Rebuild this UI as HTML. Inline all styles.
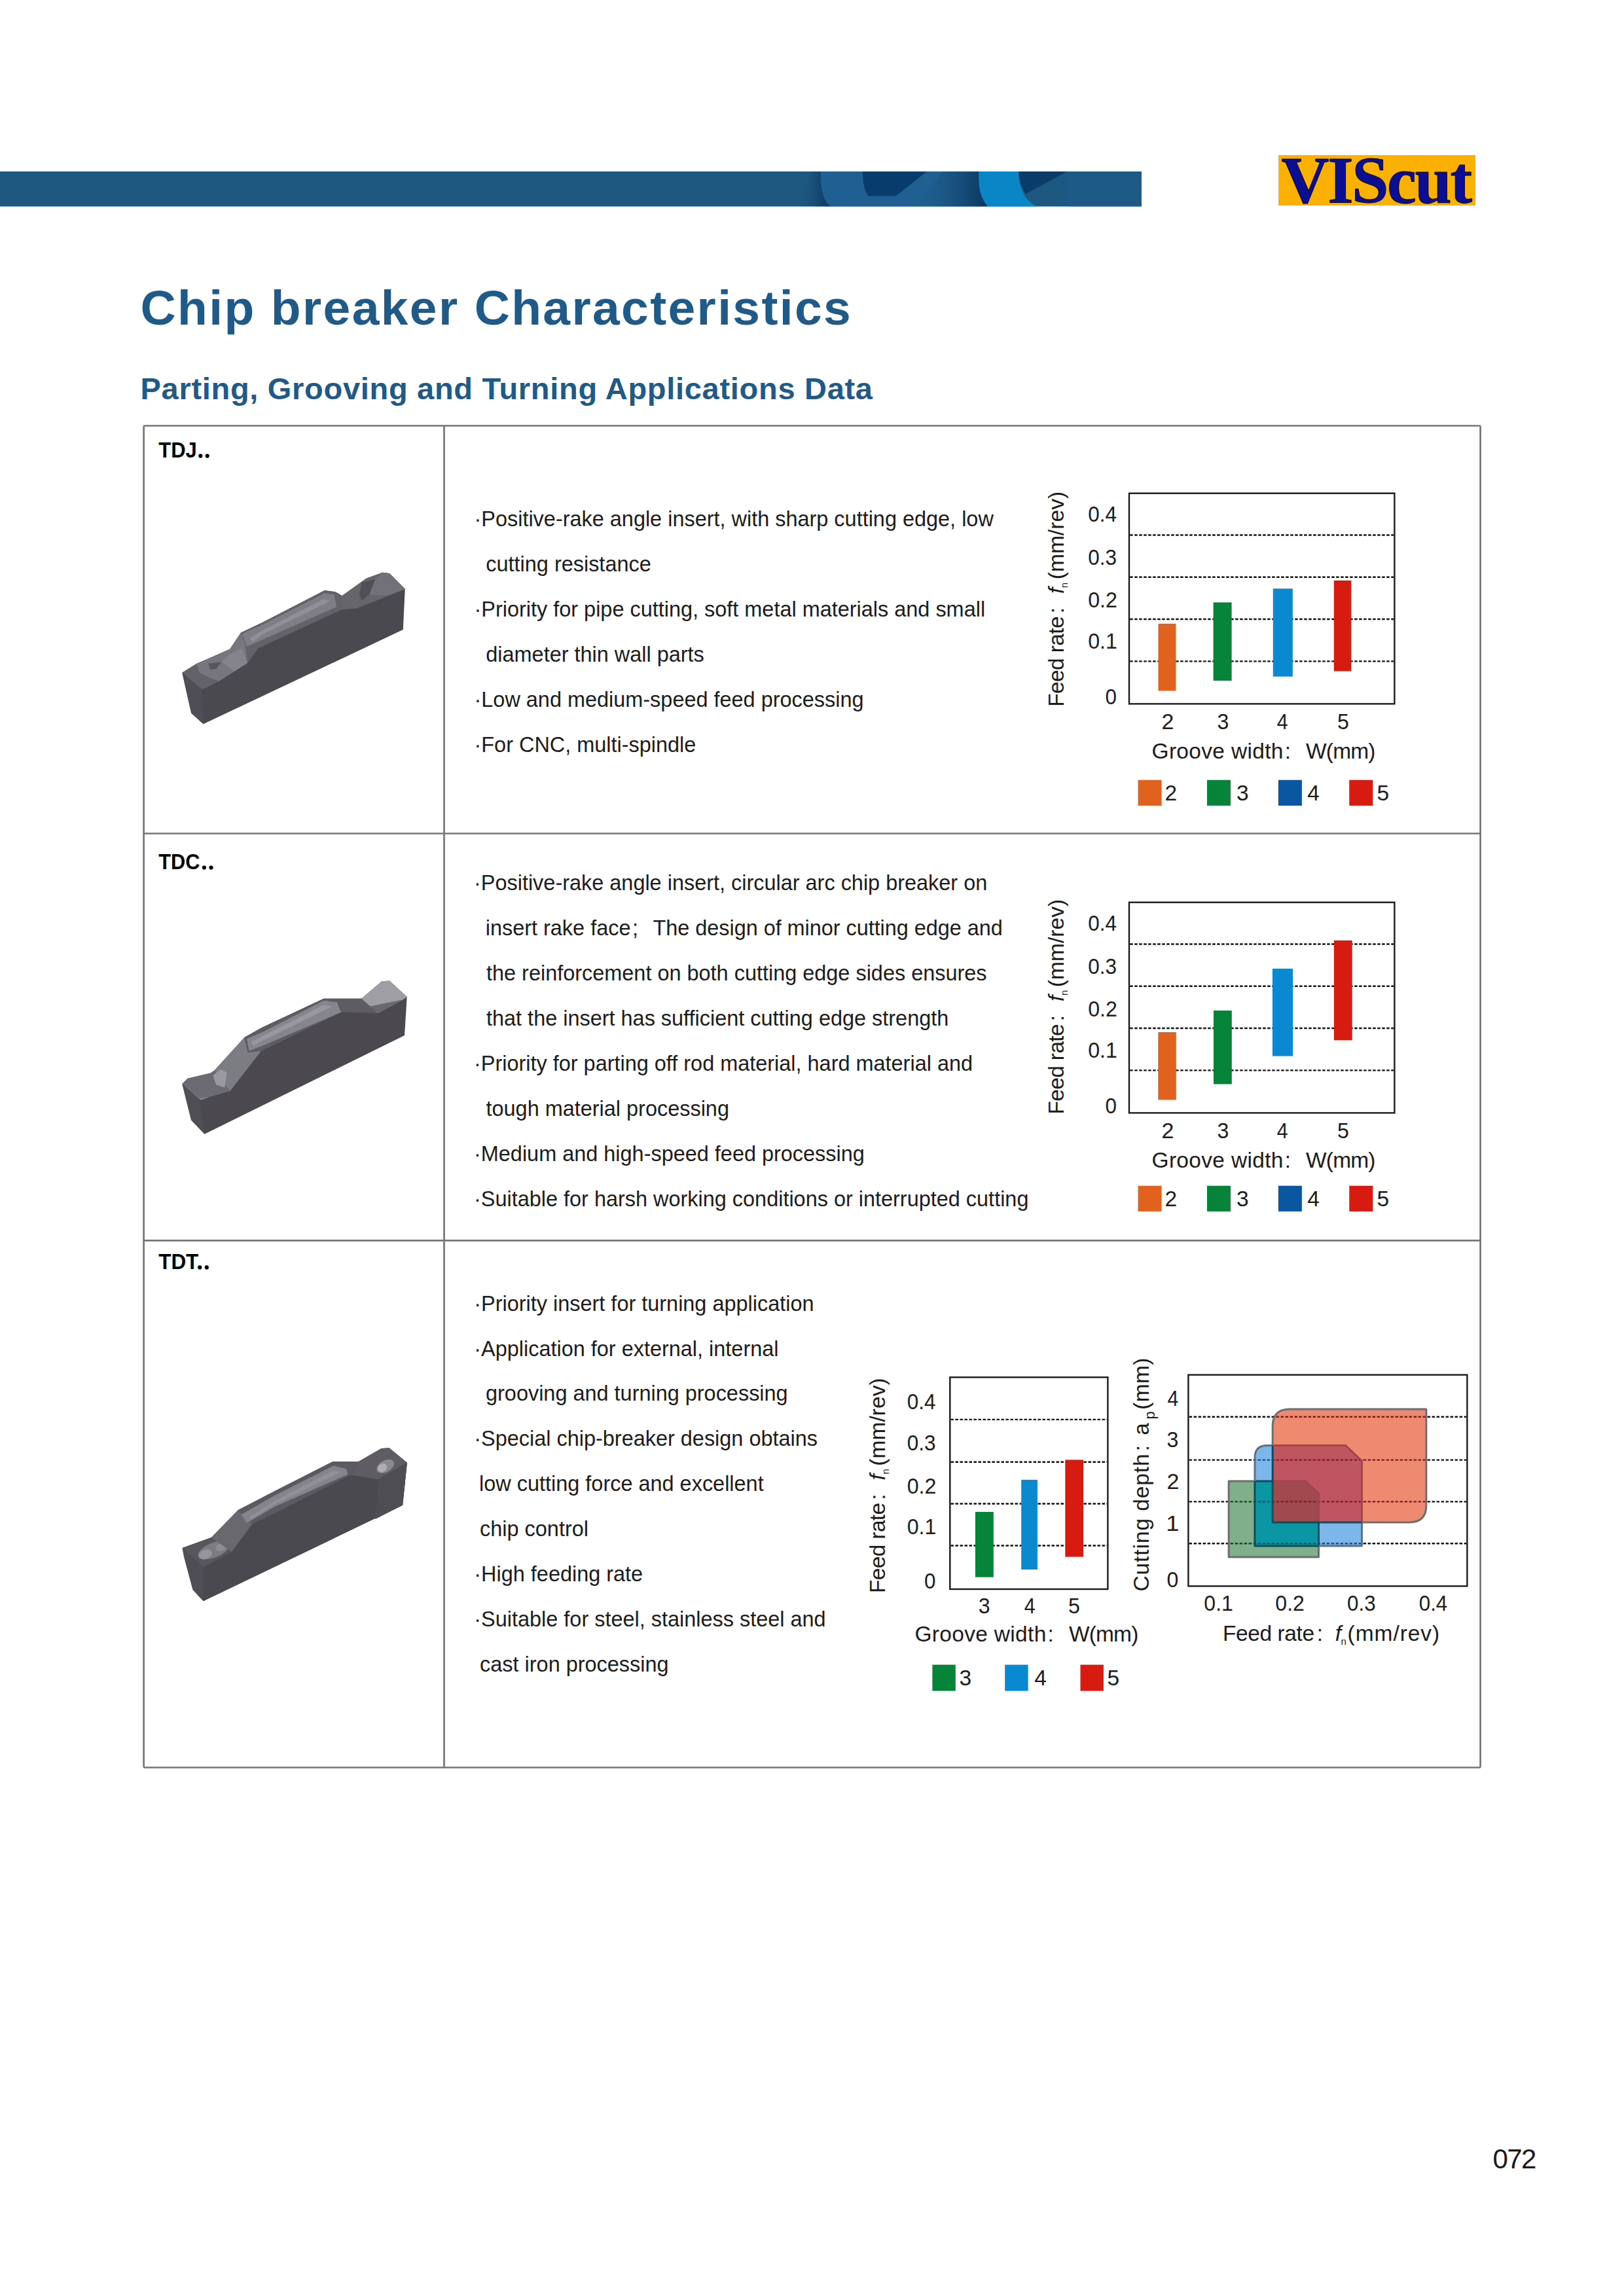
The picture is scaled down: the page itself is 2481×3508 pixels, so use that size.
<!DOCTYPE html>
<html><head><meta charset="utf-8"><title>Chip breaker Characteristics</title>
<style>html,body{margin:0;padding:0;background:#fff;} body{width:2481px;height:3508px;overflow:hidden;font-family:"Liberation Sans",sans-serif;} svg{display:block;}</style>
</head><body>
<svg width="2481" height="3508" viewBox="0 0 2481 3508">
<rect width="2481" height="3508" fill="#fff"/>
<rect x="0" y="262" width="1744" height="53.5" fill="#1d5880"/>
<defs>
<linearGradient id="gd1" x1="0" y1="0" x2="1" y2="0">
 <stop offset="0" stop-color="#1d5880" stop-opacity="0"/><stop offset="1" stop-color="#0a355f"/></linearGradient>
<linearGradient id="gd2" x1="0" y1="0" x2="1" y2="0">
 <stop offset="0" stop-color="#1d5880" stop-opacity="0"/><stop offset="1" stop-color="#08345e"/></linearGradient>
<linearGradient id="gd3" x1="0" y1="0" x2="1" y2="0">
 <stop offset="0" stop-color="#0a3a66"/><stop offset="1" stop-color="#1d5880" stop-opacity="0"/></linearGradient>
<clipPath id="barclip"><rect x="0" y="262" width="1744" height="53.5"/></clipPath>
</defs>
<g clip-path="url(#barclip)">
<polygon points="1215,315.5 1240,262 1256,262 1268,315.5" fill="url(#gd1)"/>
<path d="M1254,262 Q1252,300 1268,315.5 L1500,315.5 L1500,262 Z" fill="#1f5f91"/>
<polygon points="1400,315.5 1440,262 1497,262 1510,315.5" fill="url(#gd2)"/>
<path d="M1318,262 Q1318,290 1327,299.5 L1368.5,299.5 L1416,262 Z" fill="#073c6c"/>
<path d="M1495.4,262 Q1493,298 1509,315.5 L1583,315.5 Q1566,305 1562,292 Q1556,278 1556,262 Z" fill="#0a86c6"/>
<path d="M1556,262 L1630,262 L1566.5,296.5 Q1558,282 1556,262 Z" fill="#0a3b69"/>
<rect x="1630" y="262" width="114" height="53.5" fill="#1e5a86"/>
</g>
<rect x="1953" y="237" width="301" height="77" fill="#fab104"/>
<rect x="219.6" y="650.5" width="2042" height="2050" fill="none" stroke="#767676" stroke-width="2.7" rx="2"/>
<line x1="678.5" y1="650.5" x2="678.5" y2="2700.5" stroke="#767676" stroke-width="2.7"/>
<line x1="219.6" y1="1273.5" x2="2261.6" y2="1273.5" stroke="#767676" stroke-width="2.7"/>
<line x1="219.6" y1="1895.4" x2="2261.6" y2="1895.4" stroke="#767676" stroke-width="2.7"/>
<circle cx="306.3" cy="696.6" r="3.1" fill="#000"/><circle cx="316.7" cy="696.6" r="3.1" fill="#000"/>
<circle cx="311.9" cy="1325.6" r="3.1" fill="#000"/><circle cx="322.5" cy="1325.6" r="3.1" fill="#000"/>
<circle cx="305.2" cy="1936.4" r="3.1" fill="#000"/><circle cx="315.8" cy="1936.4" r="3.1" fill="#000"/>
<line x1="1726.2" y1="817.5" x2="2129.2000000000003" y2="817.5" stroke="#111" stroke-width="2.4" stroke-dasharray="4.5 2.5"/>
<line x1="1726.2" y1="881.8" x2="2129.2000000000003" y2="881.8" stroke="#111" stroke-width="2.4" stroke-dasharray="4.5 2.5"/>
<line x1="1726.2" y1="946" x2="2129.2000000000003" y2="946" stroke="#111" stroke-width="2.4" stroke-dasharray="4.5 2.5"/>
<line x1="1726.2" y1="1010.4" x2="2129.2000000000003" y2="1010.4" stroke="#111" stroke-width="2.4" stroke-dasharray="4.5 2.5"/>
<rect x="1769.5" y="952.9" width="27.0" height="102.50000000000011" fill="#e1621f"/>
<rect x="1853.6" y="920.4" width="28.0" height="119.60000000000002" fill="#078439"/>
<rect x="1944.8" y="899.3" width="30.0" height="134.4000000000001" fill="#0a88d0"/>
<rect x="2037.8" y="886.9" width="26.600000000000136" height="138.5000000000001" fill="#d81b10"/>
<rect x="1725" y="753.7" width="405.4000000000001" height="321.70000000000005" fill="none" stroke="#1a1a1a" stroke-width="2.4"/>
<rect x="1738.6" y="1191.7" width="36" height="39.2" fill="#e1621f"/>
<rect x="1844" y="1191.7" width="36" height="39.2" fill="#078439"/>
<rect x="1952.9" y="1191.7" width="36" height="39.2" fill="#0b56a0"/>
<rect x="2061.3" y="1191.7" width="36" height="39.2" fill="#d81b10"/>
<line x1="1726.2" y1="1442.5" x2="2129.2000000000003" y2="1442.5" stroke="#111" stroke-width="2.4" stroke-dasharray="4.5 2.5"/>
<line x1="1726.2" y1="1506.8" x2="2129.2000000000003" y2="1506.8" stroke="#111" stroke-width="2.4" stroke-dasharray="4.5 2.5"/>
<line x1="1726.2" y1="1571.0" x2="2129.2000000000003" y2="1571.0" stroke="#111" stroke-width="2.4" stroke-dasharray="4.5 2.5"/>
<line x1="1726.2" y1="1635.4" x2="2129.2000000000003" y2="1635.4" stroke="#111" stroke-width="2.4" stroke-dasharray="4.5 2.5"/>
<rect x="1769.3" y="1577.0" width="27.5" height="103.40000000000009" fill="#e1621f"/>
<rect x="1854" y="1544.0" width="27.799999999999955" height="112.40000000000009" fill="#078439"/>
<rect x="1944" y="1480.0" width="31" height="133.5999999999999" fill="#0a88d0"/>
<rect x="2037.9" y="1436.8" width="27.799999999999727" height="152.5" fill="#d81b10"/>
<rect x="1725" y="1378.7" width="405.4000000000001" height="321.70000000000005" fill="none" stroke="#1a1a1a" stroke-width="2.4"/>
<rect x="1738.6" y="1811.7" width="36" height="39.2" fill="#e1621f"/>
<rect x="1844" y="1811.7" width="36" height="39.2" fill="#078439"/>
<rect x="1952.9" y="1811.7" width="36" height="39.2" fill="#0b56a0"/>
<rect x="2061.3" y="1811.7" width="36" height="39.2" fill="#d81b10"/>
<line x1="1452.5" y1="2168.9" x2="1691.2" y2="2168.9" stroke="#111" stroke-width="2.4" stroke-dasharray="4.5 2.5"/>
<line x1="1452.5" y1="2233.7" x2="1691.2" y2="2233.7" stroke="#111" stroke-width="2.4" stroke-dasharray="4.5 2.5"/>
<line x1="1452.5" y1="2297.5" x2="1691.2" y2="2297.5" stroke="#111" stroke-width="2.4" stroke-dasharray="4.5 2.5"/>
<line x1="1452.5" y1="2361.5" x2="1691.2" y2="2361.5" stroke="#111" stroke-width="2.4" stroke-dasharray="4.5 2.5"/>
<rect x="1490" y="2310" width="27.799999999999955" height="99.69999999999982" fill="#078439"/>
<rect x="1560.2" y="2260.9" width="24.700000000000045" height="137.0999999999999" fill="#0a88d0"/>
<rect x="1627.3" y="2230.4" width="27.700000000000045" height="148.19999999999982" fill="#d81b10"/>
<rect x="1451.3" y="2104.3" width="241.10000000000014" height="323.6999999999998" fill="none" stroke="#1a1a1a" stroke-width="2.4"/>
<rect x="1424.4" y="2543.5" width="35.4" height="40" fill="#078439"/>
<rect x="1535.2" y="2543.5" width="35.4" height="40" fill="#0a88d0"/>
<rect x="1650.5" y="2543.5" width="35.4" height="40" fill="#d81b10"/>
<line x1="1816.6000000000001" y1="2164.7" x2="2240.2000000000003" y2="2164.7" stroke="#111" stroke-width="2.4" stroke-dasharray="4.5 2.5"/>
<line x1="1816.6000000000001" y1="2230.6" x2="2240.2000000000003" y2="2230.6" stroke="#111" stroke-width="2.4" stroke-dasharray="4.5 2.5"/>
<line x1="1816.6000000000001" y1="2294.4" x2="2240.2000000000003" y2="2294.4" stroke="#111" stroke-width="2.4" stroke-dasharray="4.5 2.5"/>
<line x1="1816.6000000000001" y1="2358.3" x2="2240.2000000000003" y2="2358.3" stroke="#111" stroke-width="2.4" stroke-dasharray="4.5 2.5"/>
<defs><clipPath id="cg"><path d="M1877.2,2262.9 L1994,2262.9 L2014.5,2281.5 L2014.5,2378.9 L1877.2,2378.9 Z"/></clipPath><clipPath id="cb"><path d="M1917,2362.1 L1917,2227 Q1917,2208.5 1936,2208.5 L2055.8,2208.5 L2080.5,2232 L2080.5,2362.1 Z"/></clipPath><clipPath id="cr"><path d="M1944.2,2325.9 L1944.2,2179 Q1944.2,2153 1970,2153 L2178.9,2153 L2178.9,2300 Q2178.9,2325.9 2153,2325.9 Z"/></clipPath></defs>
<path d="M1877.2,2262.9 L1994,2262.9 L2014.5,2281.5 L2014.5,2378.9 L1877.2,2378.9 Z" fill="#7fb08b"/>
<path d="M1917,2362.1 L1917,2227 Q1917,2208.5 1936,2208.5 L2055.8,2208.5 L2080.5,2232 L2080.5,2362.1 Z" fill="#7db6ea"/>
<g clip-path="url(#cg)"><path d="M1917,2362.1 L1917,2227 Q1917,2208.5 1936,2208.5 L2055.8,2208.5 L2080.5,2232 L2080.5,2362.1 Z" fill="#0a97a3"/></g>
<path d="M1944.2,2325.9 L1944.2,2179 Q1944.2,2153 1970,2153 L2178.9,2153 L2178.9,2300 Q2178.9,2325.9 2153,2325.9 Z" fill="#ee8a70"/>
<g clip-path="url(#cb)"><path d="M1944.2,2325.9 L1944.2,2179 Q1944.2,2153 1970,2153 L2178.9,2153 L2178.9,2300 Q2178.9,2325.9 2153,2325.9 Z" fill="#c05562"/></g>
<g clip-path="url(#cg)"><g clip-path="url(#cb)"><path d="M1944.2,2325.9 L1944.2,2179 Q1944.2,2153 1970,2153 L2178.9,2153 L2178.9,2300 Q2178.9,2325.9 2153,2325.9 Z" fill="#a04a50"/></g></g>
<defs>
<mask id="m_nb" maskUnits="userSpaceOnUse" x="1800" y="2090" width="460" height="350"><rect x="1800" y="2090" width="460" height="350" fill="#fff"/><path d="M1917,2362.1 L1917,2227 Q1917,2208.5 1936,2208.5 L2055.8,2208.5 L2080.5,2232 L2080.5,2362.1 Z" fill="#000"/></mask>
<mask id="m_nr" maskUnits="userSpaceOnUse" x="1800" y="2090" width="460" height="350"><rect x="1800" y="2090" width="460" height="350" fill="#fff"/><path d="M1944.2,2325.9 L1944.2,2179 Q1944.2,2153 1970,2153 L2178.9,2153 L2178.9,2300 Q2178.9,2325.9 2153,2325.9 Z" fill="#000"/></mask>
<mask id="m_nbr" maskUnits="userSpaceOnUse" x="1800" y="2090" width="460" height="350"><rect x="1800" y="2090" width="460" height="350" fill="#fff"/><path d="M1917,2362.1 L1917,2227 Q1917,2208.5 1936,2208.5 L2055.8,2208.5 L2080.5,2232 L2080.5,2362.1 Z" fill="#000"/><path d="M1944.2,2325.9 L1944.2,2179 Q1944.2,2153 1970,2153 L2178.9,2153 L2178.9,2300 Q2178.9,2325.9 2153,2325.9 Z" fill="#000"/></mask>
<mask id="m_ngr" maskUnits="userSpaceOnUse" x="1800" y="2090" width="460" height="350"><rect x="1800" y="2090" width="460" height="350" fill="#fff"/><path d="M1877.2,2262.9 L1994,2262.9 L2014.5,2281.5 L2014.5,2378.9 L1877.2,2378.9 Z" fill="#000"/><path d="M1944.2,2325.9 L1944.2,2179 Q1944.2,2153 1970,2153 L2178.9,2153 L2178.9,2300 Q2178.9,2325.9 2153,2325.9 Z" fill="#000"/></mask>
</defs>
<g clip-path="url(#cr)"><line x1="1816.6000000000001" y1="2164.7" x2="2240.2000000000003" y2="2164.7" stroke="#7e1c26" stroke-width="2.4" stroke-dasharray="4.5 2.5"/><line x1="1816.6000000000001" y1="2230.6" x2="2240.2000000000003" y2="2230.6" stroke="#7e1c26" stroke-width="2.4" stroke-dasharray="4.5 2.5"/><line x1="1816.6000000000001" y1="2294.4" x2="2240.2000000000003" y2="2294.4" stroke="#7e1c26" stroke-width="2.4" stroke-dasharray="4.5 2.5"/><line x1="1816.6000000000001" y1="2358.3" x2="2240.2000000000003" y2="2358.3" stroke="#7e1c26" stroke-width="2.4" stroke-dasharray="4.5 2.5"/></g>
<g clip-path="url(#cg)"><g clip-path="url(#cb)"><g mask="url(#m_nr)"><line x1="1816.6000000000001" y1="2164.7" x2="2240.2000000000003" y2="2164.7" stroke="#0a5a62" stroke-width="2.4" stroke-dasharray="4.5 2.5"/><line x1="1816.6000000000001" y1="2230.6" x2="2240.2000000000003" y2="2230.6" stroke="#0a5a62" stroke-width="2.4" stroke-dasharray="4.5 2.5"/><line x1="1816.6000000000001" y1="2294.4" x2="2240.2000000000003" y2="2294.4" stroke="#0a5a62" stroke-width="2.4" stroke-dasharray="4.5 2.5"/><line x1="1816.6000000000001" y1="2358.3" x2="2240.2000000000003" y2="2358.3" stroke="#0a5a62" stroke-width="2.4" stroke-dasharray="4.5 2.5"/></g></g></g>
<g clip-path="url(#cg)"><g mask="url(#m_nbr)"><line x1="1816.6000000000001" y1="2164.7" x2="2240.2000000000003" y2="2164.7" stroke="#114a26" stroke-width="2.4" stroke-dasharray="4.5 2.5"/><line x1="1816.6000000000001" y1="2230.6" x2="2240.2000000000003" y2="2230.6" stroke="#114a26" stroke-width="2.4" stroke-dasharray="4.5 2.5"/><line x1="1816.6000000000001" y1="2294.4" x2="2240.2000000000003" y2="2294.4" stroke="#114a26" stroke-width="2.4" stroke-dasharray="4.5 2.5"/><line x1="1816.6000000000001" y1="2358.3" x2="2240.2000000000003" y2="2358.3" stroke="#114a26" stroke-width="2.4" stroke-dasharray="4.5 2.5"/></g></g>
<g clip-path="url(#cb)"><g mask="url(#m_ngr)"><line x1="1816.6000000000001" y1="2164.7" x2="2240.2000000000003" y2="2164.7" stroke="#1f4f7e" stroke-width="2.4" stroke-dasharray="4.5 2.5"/><line x1="1816.6000000000001" y1="2230.6" x2="2240.2000000000003" y2="2230.6" stroke="#1f4f7e" stroke-width="2.4" stroke-dasharray="4.5 2.5"/><line x1="1816.6000000000001" y1="2294.4" x2="2240.2000000000003" y2="2294.4" stroke="#1f4f7e" stroke-width="2.4" stroke-dasharray="4.5 2.5"/><line x1="1816.6000000000001" y1="2358.3" x2="2240.2000000000003" y2="2358.3" stroke="#1f4f7e" stroke-width="2.4" stroke-dasharray="4.5 2.5"/></g></g>
<g mask="url(#m_nbr)"><path d="M1877.2,2262.9 L1994,2262.9 L2014.5,2281.5 L2014.5,2378.9 L1877.2,2378.9 Z" fill="none" stroke="#6e6e6e" stroke-width="3" stroke-linejoin="round"/></g>
<g clip-path="url(#cb)"><g mask="url(#m_nr)"><path d="M1877.2,2262.9 L1994,2262.9 L2014.5,2281.5 L2014.5,2378.9 L1877.2,2378.9 Z" fill="none" stroke="#0b4f5c" stroke-width="3" stroke-linejoin="round"/></g></g>
<g clip-path="url(#cr)"><path d="M1877.2,2262.9 L1994,2262.9 L2014.5,2281.5 L2014.5,2378.9 L1877.2,2378.9 Z" fill="none" stroke="#a04450" stroke-width="3" stroke-linejoin="round"/></g>
<g mask="url(#m_ngr)"><path d="M1917,2362.1 L1917,2227 Q1917,2208.5 1936,2208.5 L2055.8,2208.5 L2080.5,2232 L2080.5,2362.1 Z" fill="none" stroke="#5f7386" stroke-width="3" stroke-linejoin="round"/></g>
<g clip-path="url(#cg)"><g mask="url(#m_nr)"><path d="M1917,2362.1 L1917,2227 Q1917,2208.5 1936,2208.5 L2055.8,2208.5 L2080.5,2232 L2080.5,2362.1 Z" fill="none" stroke="#0b4f5c" stroke-width="3" stroke-linejoin="round"/></g></g>
<g clip-path="url(#cr)"><path d="M1917,2362.1 L1917,2227 Q1917,2208.5 1936,2208.5 L2055.8,2208.5 L2080.5,2232 L2080.5,2362.1 Z" fill="none" stroke="#a04450" stroke-width="3" stroke-linejoin="round"/></g>
<g mask="url(#m_nb)"><path d="M1944.2,2325.9 L1944.2,2179 Q1944.2,2153 1970,2153 L2178.9,2153 L2178.9,2300 Q2178.9,2325.9 2153,2325.9 Z" fill="none" stroke="#6e6e6e" stroke-width="3" stroke-linejoin="round"/></g>
<g clip-path="url(#cb)"><path d="M1944.2,2325.9 L1944.2,2179 Q1944.2,2153 1970,2153 L2178.9,2153 L2178.9,2300 Q2178.9,2325.9 2153,2325.9 Z" fill="none" stroke="#0b4f5c" stroke-width="3" stroke-linejoin="round"/></g>
<rect x="1815.4" y="2100.6" width="426.0" height="322.8000000000002" fill="none" stroke="#1a1a1a" stroke-width="2.4"/>
<defs><filter id="soft" x="-5%" y="-5%" width="110%" height="110%"><feGaussianBlur stdDeviation="2.6"/></filter></defs>
<g transform="translate(260,850) scale(0.233990)" filter="url(#soft)">
<polygon points="78.3,759.7 173,700.5 263.8,661 390,605.7 461.2,499.2 598.4,434.3 1008.9,222.7 1078.4,232.2 1122.6,257.5 1280.5,143.8 1387.9,105.9 1432.1,112.2 1533.1,213.3 1520.5,478.6 216.4,1095.4 137.5,1024" fill="#4a494f"/>
<polygon points="78.3,759.7 208.5,870 216.4,1095.4 137.5,1024" fill="#4f4e54"/>
<polygon points="78.3,759.7 173,700.5 263.8,661 390,605.7 461.2,499.2 598.4,434.3 1008.9,222.7 1078.4,232.2 1122.6,257.5 1280.5,143.8 1387.9,105.9 1432.1,112.2 1533.1,213.3 1217,339.6 1122.6,346 575.6,600 504.6,696.7 319.2,815 208.5,870" fill="#636268"/>
<polygon points="173,700.5 263.8,661 390,605.7 461.2,499.2 488.9,574 504.6,696.7 319.2,815 250,790 190,760" fill="#77767e"/>
<polygon points="248,700 334.7,690 300,735 263.8,740" fill="#56555c"/>
<polygon points="334.7,690 390,640 470,600 504.6,696.7 420,750" fill="#85848c"/>
<polygon points="470,505 598.4,448 1008.9,240 1070,250 1086.3,330 598.4,546 500,590" fill="#7f7e86"/>
<polygon points="520,535 598.4,485 1000,280 1045,292 598.4,512 540,560" fill="#918f98"/>
<polygon points="1122.6,257.5 1280.5,143.8 1387.9,105.9 1432.1,112.2 1533.1,213.3 1217,339.6 1122.6,346" fill="#66656b"/>
<polygon points="1250,170 1340,150 1300,250 1250,290 1235,250" fill="#505056"/>
<polygon points="1340,150 1387.9,105.9 1432.1,112.2 1533.1,213.3 1420,255 1300,250" fill="#727179"/>
</g>
<g transform="translate(260,1470) scale(0.233990)" filter="url(#soft)">
<polygon points="78.3,795.3 113.8,759.7 263.8,724.2 287.5,708.3 484.8,491.2 598.4,427.9 1002.6,238.5 1248.9,238.5 1381.4,124.8 1432.1,121.7 1545.8,226 1530,478.6 224.4,1122.8 137.5,1032" fill="#4b4a50"/>
<polygon points="78.3,795.3 192.7,897.8 224.4,1122.8 137.5,1032" fill="#504f55"/>
<polygon points="78.3,795.3 113.8,759.7 263.8,724.2 287.5,708.3 390.1,842.5 192.7,897.8" fill="#6c6b72"/>
<polygon points="95,800 192.7,890 260,880 200,900" fill="#8e8d95"/>
<polygon points="287.5,708.3 484.8,491.2 508.6,589.8 595.4,578.2 390.1,842.5" fill="#7c7b83"/>
<polygon points="279.6,739.9 330,700 370,720 355.9,819 300,800" fill="#9a99a1"/>
<polygon points="484.8,491.2 598.4,427.9 1002.6,238.5 1248.9,238.5 1356.3,333.4 1116.3,326.9 598.4,579.6 508.6,589.8" fill="#5d5c62"/>
<polygon points="500,500 598.4,459.7 1002.6,251 1090,262 1103.6,300 1116.3,326.9 598.4,548 515,580" fill="#86858d"/>
<polygon points="530,520 598.4,485 1000,280 1060,288 598.4,515 545,545" fill="#9896a0"/>
<polygon points="1248.9,238.5 1381.4,124.8 1432.1,121.7 1545.8,226 1520.6,244.8 1356.3,333.4" fill="#9f9ea5"/>
<polygon points="1300,290 1520.6,244.8 1356.3,333.4" fill="#6a696f"/>
</g>
<g transform="translate(260,2190) scale(0.233990)" filter="url(#soft)">
<polygon points="79.6,748 269,680 442.8,500.6 683.8,376.4 1060.2,185.3 1228.1,185.3 1378.6,98.4 1430.7,95.5 1448.1,110 1546.5,191 1517.6,469 216.4,1095.5 148,1021.6 90,806" fill="#4a494f"/>
<polygon points="79.6,748 216.4,874.4 216.4,1095.5 148,1021.6 90,806" fill="#4f4e54"/>
<polygon points="216.4,874.4 400.6,774.4 537.6,590 683.8,521 1164.5,278 1355.4,301 1546.5,191 1517.6,469 216.4,1095.5" fill="#4a494f"/>
<polygon points="79.6,748 269,680 400.6,774.4 216.4,874.4" fill="#58575d"/>
<ellipse cx="285" cy="762" rx="110" ry="48" fill="#7c7b82" transform="rotate(-22 285 762)"/>
<ellipse cx="230" cy="790" rx="45" ry="30" fill="#96959c" transform="rotate(-22 230 790)"/>
<ellipse cx="335" cy="740" rx="40" ry="26" fill="#8e8d94" transform="rotate(-22 335 740)"/>
<polygon points="269,680 442.8,500.6 537.6,590 400.6,774.4" fill="#69686e"/>
<polygon points="442.8,500.6 683.8,376.4 1060.2,185.3 1228.1,185.3 1187.6,272 1164.5,278 683.8,521 537.6,590" fill="#5b5a60"/>
<polygon points="463.8,530 683.8,405 1066,212 1150,232 1160,268 683.8,478 500,585" fill="#85848c"/>
<polygon points="520,545 683.8,440 1060,245 1120,250 683.8,462 530,560" fill="#918f98"/>
<polygon points="1228.1,185.3 1378.6,98.4 1430.7,95.5 1448.1,110 1546.5,191 1355.4,301 1187.6,272" fill="#5e5d63"/>
<ellipse cx="1405" cy="215" rx="62" ry="38" fill="#8a8990" transform="rotate(-30 1405 215)"/>
<ellipse cx="1385" cy="225" rx="32" ry="26" fill="#aeadb4" transform="rotate(-30 1385 225)"/>
<polygon points="1355.4,301 1546.5,191 1517.6,469 1340,560" fill="#4e4d53"/>
</g>
<text x="1957.5" y="309.5" font-family="Liberation Serif" font-size="101" font-weight="bold" fill="#0b0d92" text-anchor="start" letter-spacing="-2.28" stroke="#000" stroke-width="0.9" xml:space="preserve">VIScut</text>
<text x="214.5" y="496.0" font-family="Liberation Sans" font-size="75" font-weight="bold" fill="#1f5a88" text-anchor="start" letter-spacing="2.37" xml:space="preserve">Chip breaker Characteristics</text>
<text x="214.5" y="610.0" font-family="Liberation Sans" font-size="47" font-weight="bold" fill="#1f5a88" text-anchor="start" letter-spacing="0.70" xml:space="preserve">Parting, Grooving and Turning Applications Data</text>
<text x="0" y="699.2" transform="translate(242.20 0) scale(0.9395 1)" font-family="Liberation Sans" font-size="33" font-weight="bold" fill="#000" xml:space="preserve">TDJ</text>
<text x="0" y="1328.4" transform="translate(242.20 0) scale(0.9315 1)" font-family="Liberation Sans" font-size="33" font-weight="bold" fill="#000" xml:space="preserve">TDC</text>
<text x="0" y="1939.4" transform="translate(242.20 0) scale(0.9533 1)" font-family="Liberation Sans" font-size="33" font-weight="bold" fill="#000" xml:space="preserve">TDT</text>
<text x="724.5" y="804.2" font-family="Liberation Sans" font-size="32.45" font-weight="normal" fill="#1c1c1c" text-anchor="start" xml:space="preserve">·Positive-rake angle insert, with sharp cutting edge, low</text>
<text x="742.3" y="873.1" font-family="Liberation Sans" font-size="32.45" font-weight="normal" fill="#1c1c1c" text-anchor="start" xml:space="preserve">cutting resistance</text>
<text x="724.5" y="941.9" font-family="Liberation Sans" font-size="32.45" font-weight="normal" fill="#1c1c1c" text-anchor="start" xml:space="preserve">·Priority for pipe cutting, soft metal materials and small</text>
<text x="742.3" y="1010.8" font-family="Liberation Sans" font-size="32.45" font-weight="normal" fill="#1c1c1c" text-anchor="start" xml:space="preserve">diameter thin wall parts</text>
<text x="724.5" y="1079.6" font-family="Liberation Sans" font-size="32.45" font-weight="normal" fill="#1c1c1c" text-anchor="start" xml:space="preserve">·Low and medium-speed feed processing</text>
<text x="724.5" y="1148.5" font-family="Liberation Sans" font-size="32.45" font-weight="normal" fill="#1c1c1c" text-anchor="start" xml:space="preserve">·For CNC, multi-spindle</text>
<text x="724.0" y="1360.2" font-family="Liberation Sans" font-size="32.45" font-weight="normal" fill="#1c1c1c" text-anchor="start" xml:space="preserve">·Positive-rake angle insert, circular arc chip breaker on</text>
<text x="741.7" y="1429.2" font-family="Liberation Sans" font-size="32.45" font-weight="normal" fill="#1c1c1c" text-anchor="start" xml:space="preserve">insert rake face</text>
<text x="743.0" y="1498.1" font-family="Liberation Sans" font-size="32.45" font-weight="normal" fill="#1c1c1c" text-anchor="start" xml:space="preserve">the reinforcement on both cutting edge sides ensures</text>
<text x="743.0" y="1567.1" font-family="Liberation Sans" font-size="32.45" font-weight="normal" fill="#1c1c1c" text-anchor="start" xml:space="preserve">that the insert has sufficient cutting edge strength</text>
<text x="724.0" y="1636.0" font-family="Liberation Sans" font-size="32.45" font-weight="normal" fill="#1c1c1c" text-anchor="start" xml:space="preserve">·Priority for parting off rod material, hard material and</text>
<text x="742.5" y="1705.0" font-family="Liberation Sans" font-size="32.45" font-weight="normal" fill="#1c1c1c" text-anchor="start" xml:space="preserve">tough material processing</text>
<text x="724.0" y="1773.9" font-family="Liberation Sans" font-size="32.45" font-weight="normal" fill="#1c1c1c" text-anchor="start" xml:space="preserve">·Medium and high-speed feed processing</text>
<text x="724.0" y="1842.9" font-family="Liberation Sans" font-size="32.45" font-weight="normal" fill="#1c1c1c" text-anchor="start" xml:space="preserve">·Suitable for harsh working conditions or interrupted cutting</text>
<text x="966.0" y="1429.2" font-family="Liberation Sans" font-size="32.45" font-weight="normal" fill="#1c1c1c" text-anchor="start" xml:space="preserve">;</text>
<text x="997.6" y="1429.2" font-family="Liberation Sans" font-size="32.45" font-weight="normal" fill="#1c1c1c" text-anchor="start" letter-spacing="-0.04" xml:space="preserve">The design of minor cutting edge and</text>
<text x="724.3" y="2002.5" font-family="Liberation Sans" font-size="32.45" font-weight="normal" fill="#1c1c1c" text-anchor="start" xml:space="preserve">·Priority insert for turning application</text>
<text x="724.3" y="2071.5" font-family="Liberation Sans" font-size="32.45" font-weight="normal" fill="#1c1c1c" text-anchor="start" xml:space="preserve">·Application for external, internal</text>
<text x="742.0" y="2140.4" font-family="Liberation Sans" font-size="32.45" font-weight="normal" fill="#1c1c1c" text-anchor="start" xml:space="preserve">grooving and turning processing</text>
<text x="724.3" y="2209.4" font-family="Liberation Sans" font-size="32.45" font-weight="normal" fill="#1c1c1c" text-anchor="start" xml:space="preserve">·Special chip-breaker design obtains</text>
<text x="732.1" y="2278.3" font-family="Liberation Sans" font-size="32.45" font-weight="normal" fill="#1c1c1c" text-anchor="start" xml:space="preserve">low cutting force and excellent</text>
<text x="733.1" y="2347.3" font-family="Liberation Sans" font-size="32.45" font-weight="normal" fill="#1c1c1c" text-anchor="start" xml:space="preserve">chip control</text>
<text x="724.3" y="2416.3" font-family="Liberation Sans" font-size="32.45" font-weight="normal" fill="#1c1c1c" text-anchor="start" xml:space="preserve">·High feeding rate</text>
<text x="724.3" y="2485.2" font-family="Liberation Sans" font-size="32.45" font-weight="normal" fill="#1c1c1c" text-anchor="start" xml:space="preserve">·Suitable for steel, stainless steel and</text>
<text x="733.1" y="2554.2" font-family="Liberation Sans" font-size="32.45" font-weight="normal" fill="#1c1c1c" text-anchor="start" xml:space="preserve">cast iron processing</text>
<text x="2280.4" y="3313.2" font-family="Liberation Sans" font-size="42" font-weight="normal" fill="#1a1a1a" text-anchor="start" letter-spacing="-1.61" xml:space="preserve">072</text>
<text x="0" y="797.3" transform="translate(1662.26 0) scale(0.9391 1)" font-family="Liberation Sans" font-size="33.5" font-weight="normal" fill="#1c1c1c" xml:space="preserve">0.4</text>
<text x="0" y="863.5" transform="translate(1662.26 0) scale(0.9391 1)" font-family="Liberation Sans" font-size="33.5" font-weight="normal" fill="#1c1c1c" xml:space="preserve">0.3</text>
<text x="0" y="928.5" transform="translate(1662.24 0) scale(0.9604 1)" font-family="Liberation Sans" font-size="33.5" font-weight="normal" fill="#1c1c1c" xml:space="preserve">0.2</text>
<text x="0" y="991.0" transform="translate(1662.24 0) scale(0.9604 1)" font-family="Liberation Sans" font-size="33.5" font-weight="normal" fill="#1c1c1c" xml:space="preserve">0.1</text>
<text x="0" y="1076.0" transform="translate(1688.56 0) scale(0.9353 1)" font-family="Liberation Sans" font-size="33.5" font-weight="normal" fill="#1c1c1c" xml:space="preserve">0</text>
<text x="0" y="1113.9" transform="translate(1774.43 0) scale(1.0188 1)" font-family="Liberation Sans" font-size="33.5" font-weight="normal" fill="#1c1c1c" xml:space="preserve">2</text>
<text x="0" y="1113.9" transform="translate(1859.49 0) scale(0.9588 1)" font-family="Liberation Sans" font-size="33.5" font-weight="normal" fill="#1c1c1c" xml:space="preserve">3</text>
<text x="0" y="1113.9" transform="translate(1950.85 0) scale(0.9056 1)" font-family="Liberation Sans" font-size="33.5" font-weight="normal" fill="#1c1c1c" xml:space="preserve">4</text>
<text x="0" y="1113.9" transform="translate(2042.89 0) scale(0.9588 1)" font-family="Liberation Sans" font-size="33.5" font-weight="normal" fill="#1c1c1c" xml:space="preserve">5</text>
<text x="1759.5" y="1159.2" font-family="Liberation Sans" font-size="33.5" font-weight="normal" fill="#1c1c1c" text-anchor="start" letter-spacing="0.32" xml:space="preserve">Groove width</text>
<text x="1962.7" y="1159.2" font-family="Liberation Sans" font-size="33.5" font-weight="normal" fill="#1c1c1c" text-anchor="start" xml:space="preserve">:</text>
<text x="1995.0" y="1159.2" font-family="Liberation Sans" font-size="33.5" font-weight="normal" fill="#1c1c1c" text-anchor="start" letter-spacing="-0.82" xml:space="preserve">W(mm)</text>
<text x="1779.5" y="1223.1" font-family="Liberation Sans" font-size="33.5" font-weight="normal" fill="#1c1c1c" text-anchor="start" xml:space="preserve">2</text>
<text x="1889.1" y="1223.1" font-family="Liberation Sans" font-size="33.5" font-weight="normal" fill="#1c1c1c" text-anchor="start" xml:space="preserve">3</text>
<text x="1997.2" y="1223.1" font-family="Liberation Sans" font-size="33.5" font-weight="normal" fill="#1c1c1c" text-anchor="start" xml:space="preserve">4</text>
<text x="2103.4" y="1223.1" font-family="Liberation Sans" font-size="33.5" font-weight="normal" fill="#1c1c1c" text-anchor="start" xml:space="preserve">5</text>
<g transform="translate(1625.0,1077.7) rotate(-90)"><text x="-2.0" y="0.0" font-family="Liberation Sans" font-size="33.5" font-weight="normal" fill="#1c1c1c" text-anchor="start" letter-spacing="-0.64" xml:space="preserve">Feed rate</text></g>
<g transform="translate(1625.0,1077.7) rotate(-90)"><text x="140.4" y="0.0" font-family="Liberation Sans" font-size="33.5" font-weight="normal" fill="#1c1c1c" text-anchor="start" xml:space="preserve">:</text></g>
<g transform="translate(1625.0,1077.7) rotate(-90)"><text x="170.6" y="0.0" font-family="Liberation Sans" font-size="33.5" font-weight="normal" font-style="italic" fill="#1c1c1c" text-anchor="start" xml:space="preserve">f</text></g>
<g transform="translate(1625.0,1077.7) rotate(-90)"><text x="179.5" y="5.7" font-family="Liberation Sans" font-size="15" font-weight="normal" fill="#1c1c1c" text-anchor="start" xml:space="preserve">n</text></g>
<g transform="translate(1625.0,1077.7) rotate(-90)"><text x="192.4" y="0.0" font-family="Liberation Sans" font-size="33.5" font-weight="normal" fill="#1c1c1c" text-anchor="start" letter-spacing="0.07" xml:space="preserve">(mm/rev)</text></g>
<text x="0" y="1422.3" transform="translate(1662.26 0) scale(0.9391 1)" font-family="Liberation Sans" font-size="33.5" font-weight="normal" fill="#1c1c1c" xml:space="preserve">0.4</text>
<text x="0" y="1488.5" transform="translate(1662.26 0) scale(0.9391 1)" font-family="Liberation Sans" font-size="33.5" font-weight="normal" fill="#1c1c1c" xml:space="preserve">0.3</text>
<text x="0" y="1553.5" transform="translate(1662.24 0) scale(0.9604 1)" font-family="Liberation Sans" font-size="33.5" font-weight="normal" fill="#1c1c1c" xml:space="preserve">0.2</text>
<text x="0" y="1616.0" transform="translate(1662.24 0) scale(0.9604 1)" font-family="Liberation Sans" font-size="33.5" font-weight="normal" fill="#1c1c1c" xml:space="preserve">0.1</text>
<text x="0" y="1701.0" transform="translate(1688.56 0) scale(0.9353 1)" font-family="Liberation Sans" font-size="33.5" font-weight="normal" fill="#1c1c1c" xml:space="preserve">0</text>
<text x="0" y="1738.9" transform="translate(1774.43 0) scale(1.0188 1)" font-family="Liberation Sans" font-size="33.5" font-weight="normal" fill="#1c1c1c" xml:space="preserve">2</text>
<text x="0" y="1738.9" transform="translate(1859.49 0) scale(0.9588 1)" font-family="Liberation Sans" font-size="33.5" font-weight="normal" fill="#1c1c1c" xml:space="preserve">3</text>
<text x="0" y="1738.9" transform="translate(1950.85 0) scale(0.9056 1)" font-family="Liberation Sans" font-size="33.5" font-weight="normal" fill="#1c1c1c" xml:space="preserve">4</text>
<text x="0" y="1738.9" transform="translate(2042.89 0) scale(0.9588 1)" font-family="Liberation Sans" font-size="33.5" font-weight="normal" fill="#1c1c1c" xml:space="preserve">5</text>
<text x="1759.5" y="1784.2" font-family="Liberation Sans" font-size="33.5" font-weight="normal" fill="#1c1c1c" text-anchor="start" letter-spacing="0.32" xml:space="preserve">Groove width</text>
<text x="1962.7" y="1784.2" font-family="Liberation Sans" font-size="33.5" font-weight="normal" fill="#1c1c1c" text-anchor="start" xml:space="preserve">:</text>
<text x="1995.0" y="1784.2" font-family="Liberation Sans" font-size="33.5" font-weight="normal" fill="#1c1c1c" text-anchor="start" letter-spacing="-0.82" xml:space="preserve">W(mm)</text>
<text x="1779.5" y="1843.1" font-family="Liberation Sans" font-size="33.5" font-weight="normal" fill="#1c1c1c" text-anchor="start" xml:space="preserve">2</text>
<text x="1889.1" y="1843.1" font-family="Liberation Sans" font-size="33.5" font-weight="normal" fill="#1c1c1c" text-anchor="start" xml:space="preserve">3</text>
<text x="1997.2" y="1843.1" font-family="Liberation Sans" font-size="33.5" font-weight="normal" fill="#1c1c1c" text-anchor="start" xml:space="preserve">4</text>
<text x="2103.4" y="1843.1" font-family="Liberation Sans" font-size="33.5" font-weight="normal" fill="#1c1c1c" text-anchor="start" xml:space="preserve">5</text>
<g transform="translate(1625.0,1700.6) rotate(-90)"><text x="-2.0" y="0.0" font-family="Liberation Sans" font-size="33.5" font-weight="normal" fill="#1c1c1c" text-anchor="start" letter-spacing="-0.64" xml:space="preserve">Feed rate</text></g>
<g transform="translate(1625.0,1700.6) rotate(-90)"><text x="140.4" y="0.0" font-family="Liberation Sans" font-size="33.5" font-weight="normal" fill="#1c1c1c" text-anchor="start" xml:space="preserve">:</text></g>
<g transform="translate(1625.0,1700.6) rotate(-90)"><text x="170.6" y="0.0" font-family="Liberation Sans" font-size="33.5" font-weight="normal" font-style="italic" fill="#1c1c1c" text-anchor="start" xml:space="preserve">f</text></g>
<g transform="translate(1625.0,1700.6) rotate(-90)"><text x="179.5" y="5.7" font-family="Liberation Sans" font-size="15" font-weight="normal" fill="#1c1c1c" text-anchor="start" xml:space="preserve">n</text></g>
<g transform="translate(1625.0,1700.6) rotate(-90)"><text x="192.4" y="0.0" font-family="Liberation Sans" font-size="33.5" font-weight="normal" fill="#1c1c1c" text-anchor="start" letter-spacing="0.07" xml:space="preserve">(mm/rev)</text></g>
<text x="0" y="2152.8" transform="translate(1385.66 0) scale(0.9391 1)" font-family="Liberation Sans" font-size="33.5" font-weight="normal" fill="#1c1c1c" xml:space="preserve">0.4</text>
<text x="0" y="2216.5" transform="translate(1385.66 0) scale(0.9391 1)" font-family="Liberation Sans" font-size="33.5" font-weight="normal" fill="#1c1c1c" xml:space="preserve">0.3</text>
<text x="0" y="2281.7" transform="translate(1385.64 0) scale(0.9604 1)" font-family="Liberation Sans" font-size="33.5" font-weight="normal" fill="#1c1c1c" xml:space="preserve">0.2</text>
<text x="0" y="2344.0" transform="translate(1385.64 0) scale(0.9604 1)" font-family="Liberation Sans" font-size="33.5" font-weight="normal" fill="#1c1c1c" xml:space="preserve">0.1</text>
<text x="0" y="2427.3" transform="translate(1411.96 0) scale(0.9353 1)" font-family="Liberation Sans" font-size="33.5" font-weight="normal" fill="#1c1c1c" xml:space="preserve">0</text>
<text x="0" y="2464.8" transform="translate(1494.69 0) scale(0.9588 1)" font-family="Liberation Sans" font-size="33.5" font-weight="normal" fill="#1c1c1c" xml:space="preserve">3</text>
<text x="0" y="2464.8" transform="translate(1564.65 0) scale(0.9056 1)" font-family="Liberation Sans" font-size="33.5" font-weight="normal" fill="#1c1c1c" xml:space="preserve">4</text>
<text x="0" y="2464.8" transform="translate(1631.89 0) scale(0.9588 1)" font-family="Liberation Sans" font-size="33.5" font-weight="normal" fill="#1c1c1c" xml:space="preserve">5</text>
<text x="1397.4" y="2507.6" font-family="Liberation Sans" font-size="33.5" font-weight="normal" fill="#1c1c1c" text-anchor="start" letter-spacing="0.32" xml:space="preserve">Groove width</text>
<text x="1600.6" y="2507.6" font-family="Liberation Sans" font-size="33.5" font-weight="normal" fill="#1c1c1c" text-anchor="start" xml:space="preserve">:</text>
<text x="1632.9" y="2507.6" font-family="Liberation Sans" font-size="33.5" font-weight="normal" fill="#1c1c1c" text-anchor="start" letter-spacing="-0.82" xml:space="preserve">W(mm)</text>
<text x="1465.5" y="2574.5" font-family="Liberation Sans" font-size="33.5" font-weight="normal" fill="#1c1c1c" text-anchor="start" xml:space="preserve">3</text>
<text x="1580.2" y="2574.5" font-family="Liberation Sans" font-size="33.5" font-weight="normal" fill="#1c1c1c" text-anchor="start" xml:space="preserve">4</text>
<text x="1691.6" y="2574.5" font-family="Liberation Sans" font-size="33.5" font-weight="normal" fill="#1c1c1c" text-anchor="start" xml:space="preserve">5</text>
<g transform="translate(1351.8,2432.1) rotate(-90)"><text x="-2.0" y="0.0" font-family="Liberation Sans" font-size="33.5" font-weight="normal" fill="#1c1c1c" text-anchor="start" letter-spacing="-0.64" xml:space="preserve">Feed rate</text></g>
<g transform="translate(1351.8,2432.1) rotate(-90)"><text x="140.4" y="0.0" font-family="Liberation Sans" font-size="33.5" font-weight="normal" fill="#1c1c1c" text-anchor="start" xml:space="preserve">:</text></g>
<g transform="translate(1351.8,2432.1) rotate(-90)"><text x="170.6" y="0.0" font-family="Liberation Sans" font-size="33.5" font-weight="normal" font-style="italic" fill="#1c1c1c" text-anchor="start" xml:space="preserve">f</text></g>
<g transform="translate(1351.8,2432.1) rotate(-90)"><text x="179.5" y="5.7" font-family="Liberation Sans" font-size="15" font-weight="normal" fill="#1c1c1c" text-anchor="start" xml:space="preserve">n</text></g>
<g transform="translate(1351.8,2432.1) rotate(-90)"><text x="192.4" y="0.0" font-family="Liberation Sans" font-size="33.5" font-weight="normal" fill="#1c1c1c" text-anchor="start" letter-spacing="0.07" xml:space="preserve">(mm/rev)</text></g>
<text x="0" y="2147.8" transform="translate(1783.50 0) scale(0.9056 1)" font-family="Liberation Sans" font-size="33.5" font-weight="normal" fill="#1c1c1c" xml:space="preserve">4</text>
<text x="0" y="2211.2" transform="translate(1782.54 0) scale(0.9588 1)" font-family="Liberation Sans" font-size="33.5" font-weight="normal" fill="#1c1c1c" xml:space="preserve">3</text>
<text x="0" y="2275.0" transform="translate(1782.48 0) scale(1.0188 1)" font-family="Liberation Sans" font-size="33.5" font-weight="normal" fill="#1c1c1c" xml:space="preserve">2</text>
<text x="0" y="2338.7" transform="translate(1781.33 0) scale(1.0867 1)" font-family="Liberation Sans" font-size="33.5" font-weight="normal" fill="#1c1c1c" xml:space="preserve">1</text>
<text x="0" y="2424.8" transform="translate(1782.54 0) scale(0.9588 1)" font-family="Liberation Sans" font-size="33.5" font-weight="normal" fill="#1c1c1c" xml:space="preserve">0</text>
<text x="0" y="2461.0" transform="translate(1839.34 0) scale(0.9559 1)" font-family="Liberation Sans" font-size="33.5" font-weight="normal" fill="#1c1c1c" xml:space="preserve">0.1</text>
<text x="0" y="2461.0" transform="translate(1948.34 0) scale(0.9559 1)" font-family="Liberation Sans" font-size="33.5" font-weight="normal" fill="#1c1c1c" xml:space="preserve">0.2</text>
<text x="0" y="2461.0" transform="translate(2058.07 0) scale(0.9346 1)" font-family="Liberation Sans" font-size="33.5" font-weight="normal" fill="#1c1c1c" xml:space="preserve">0.3</text>
<text x="0" y="2461.0" transform="translate(2167.77 0) scale(0.9346 1)" font-family="Liberation Sans" font-size="33.5" font-weight="normal" fill="#1c1c1c" xml:space="preserve">0.4</text>
<text x="1868.0" y="2506.5" font-family="Liberation Sans" font-size="33.5" font-weight="normal" fill="#1c1c1c" text-anchor="start" letter-spacing="-0.42" xml:space="preserve">Feed rate</text>
<text x="2011.8" y="2506.5" font-family="Liberation Sans" font-size="33.5" font-weight="normal" fill="#1c1c1c" text-anchor="start" xml:space="preserve">:</text>
<text x="2039.7" y="2506.5" font-family="Liberation Sans" font-size="33.5" font-weight="normal" font-style="italic" fill="#1c1c1c" text-anchor="start" xml:space="preserve">f</text>
<text x="2048.5" y="2513.0" font-family="Liberation Sans" font-size="15" font-weight="normal" fill="#1c1c1c" text-anchor="start" xml:space="preserve">n</text>
<text x="2058.6" y="2506.5" font-family="Liberation Sans" font-size="33.5" font-weight="normal" fill="#1c1c1c" text-anchor="start" letter-spacing="0.94" xml:space="preserve">(mm/rev)</text>
<g transform="translate(1755.0,2430.5) rotate(-90)"><text x="-1.0" y="0.0" font-family="Liberation Sans" font-size="33.5" font-weight="normal" fill="#1c1c1c" text-anchor="start" letter-spacing="0.90" xml:space="preserve">Cutting depth</text></g>
<g transform="translate(1755.0,2430.5) rotate(-90)"><text x="213.3" y="0.0" font-family="Liberation Sans" font-size="33.5" font-weight="normal" fill="#1c1c1c" text-anchor="start" xml:space="preserve">:</text></g>
<g transform="translate(1755.0,2430.5) rotate(-90)"><text x="237.8" y="0.0" font-family="Liberation Sans" font-size="33.5" font-weight="normal" fill="#1c1c1c" text-anchor="start" xml:space="preserve">a</text></g>
<g transform="translate(1755.0,2430.5) rotate(-90)"><text x="262.1" y="8.8" font-family="Liberation Sans" font-size="22" font-weight="normal" fill="#1c1c1c" text-anchor="start" xml:space="preserve">p</text></g>
<g transform="translate(1755.0,2430.5) rotate(-90)"><text x="276.7" y="0.0" font-family="Liberation Sans" font-size="33.5" font-weight="normal" fill="#1c1c1c" text-anchor="start" letter-spacing="0.38" xml:space="preserve">(mm)</text></g>
</svg>
</body></html>
